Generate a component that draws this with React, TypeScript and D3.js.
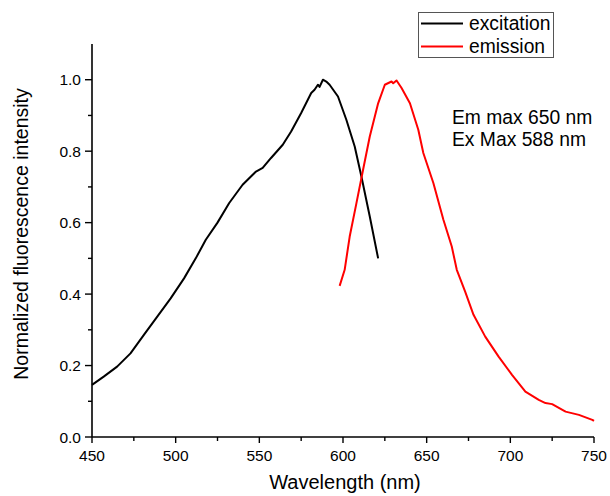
import React from "react";
import * as d3 from "d3";

const excitationWl = [450, 457, 465, 473, 481, 489, 497, 505, 512, 518, 525, 532, 540, 548, 552, 557, 564, 569, 575, 581, 583, 585, 586, 588, 590, 592, 597, 602, 607, 611, 616, 621];
const excitationVal = [0.146, 0.169, 0.197, 0.234, 0.286, 0.337, 0.388, 0.444, 0.5, 0.552, 0.6, 0.655, 0.706, 0.743, 0.753, 0.781, 0.818, 0.855, 0.907, 0.963, 0.972, 0.986, 0.98, 1.0, 0.995, 0.986, 0.953, 0.888, 0.813, 0.729, 0.617, 0.5];

const emissionWl = [598, 601, 604, 608, 612, 616, 621, 625, 629, 630, 632, 635, 640, 645, 648, 654, 660, 665, 668, 673, 678, 685, 693, 701, 709, 717, 721, 725, 733, 741, 749, 750];
const emissionVal = [0.423, 0.468, 0.561, 0.654, 0.748, 0.841, 0.934, 0.986, 0.995, 0.99, 0.998, 0.977, 0.934, 0.86, 0.795, 0.711, 0.608, 0.533, 0.468, 0.407, 0.342, 0.281, 0.225, 0.174, 0.127, 0.104, 0.095, 0.092, 0.071, 0.062, 0.048, 0.045];

const xMajorTicks = [450, 500, 550, 600, 650, 700, 750];
const xMinorTicks = [475, 525, 575, 625, 675, 725];
const yMajorTicks = [0, 0.2, 0.4, 0.6, 0.8, 1.0];
const yMinorTicks = [0.1, 0.3, 0.5, 0.7, 0.9];

const legendLabels = ["excitation", "emission"];
const legendColors = ["#000000", "#ff0000"];
const annotations = ["Em max 650 nm", "Ex Max 588 nm"];

const FONT = "'Liberation Sans', Arial, sans-serif";

export default function App() {
  const x = d3.scaleLinear().domain([450, 750]).range([92, 594]);
  const y = d3.scaleLinear().domain([0, 1.1]).range([437, 44]);
  const line = d3
    .line<[number, number]>()
    .x((d) => x(d[0]))
    .y((d) => y(d[1]));
  const exData: [number, number][] = excitationWl.map((w, i) => [w, excitationVal[i]]);
  const emData: [number, number][] = emissionWl.map((w, i) => [w, emissionVal[i]]);

  return (
    <svg
      width={610}
      height={496}
      style={{ position: "absolute", left: 0, top: 0, background: "#fff" }}
      fontFamily={FONT}
    >
      <rect x={0} y={0} width={610} height={496} fill="#fff" />
      {/* axes */}
      <line x1={x(450)} x2={x(450)} y1={y(1.1)} y2={y(0)} stroke="#000" strokeWidth={1.6} />
      <line x1={x(450)} x2={x(750)} y1={y(0)} y2={y(0)} stroke="#000" strokeWidth={1.6} />
      {xMajorTicks.map((t) => (
        <g key={"xm" + t}>
          <line x1={x(t)} x2={x(t)} y1={y(0)} y2={y(0) + 6} stroke="#000" strokeWidth={1.4} />
          <text x={x(t)} y={y(0) + 24} fontSize={15.5} textAnchor="middle" fill="#000">
            {t}
          </text>
        </g>
      ))}
      {xMinorTicks.map((t) => (
        <line key={"xn" + t} x1={x(t)} x2={x(t)} y1={y(0)} y2={y(0) + 4} stroke="#000" strokeWidth={1.4} />
      ))}
      {yMajorTicks.map((t) => (
        <g key={"ym" + t}>
          <line x1={x(450) - 7} x2={x(450)} y1={y(t)} y2={y(t)} stroke="#000" strokeWidth={1.4} />
          <text x={x(450) - 11} y={y(t) + 5.5} fontSize={15.5} textAnchor="end" fill="#000">
            {t.toFixed(1)}
          </text>
        </g>
      ))}
      {yMinorTicks.map((t) => (
        <line key={"yn" + t} x1={x(450) - 4} x2={x(450)} y1={y(t)} y2={y(t)} stroke="#000" strokeWidth={1.4} />
      ))}
      {/* axis titles */}
      <text x={345} y={489} fontSize={20} textAnchor="middle" fill="#000">
        Wavelength (nm)
      </text>
      <text
        transform={`translate(28,234) rotate(-90)`}
        fontSize={19.5}
        textAnchor="middle"
        fill="#000"
      >
        Normalized fluorescence intensity
      </text>
      {/* curves */}
      <path d={line(exData) || ""} fill="none" stroke="#000" strokeWidth={2} strokeLinejoin="round" />
      <path d={line(emData) || ""} fill="none" stroke="#ff0000" strokeWidth={2} strokeLinejoin="round" />
      {/* legend */}
      <rect x={418.5} y={12.5} width={135} height={45} fill="#fff" stroke="#555" strokeWidth={1} />
      {legendLabels.map((l, i) => (
        <g key={l}>
          <line x1={421} x2={463} y1={23.5 + i * 23} y2={23.5 + i * 23} stroke={legendColors[i]} strokeWidth={2} />
          <text x={469} y={30 + i * 23} fontSize={19.3} fill="#000">
            {l}
          </text>
        </g>
      ))}
      {/* annotations */}
      {annotations.map((a, i) => (
        <text key={a} x={452} y={124 + i * 22} fontSize={19.3} fill="#000">
          {a}
        </text>
      ))}
    </svg>
  );
}
